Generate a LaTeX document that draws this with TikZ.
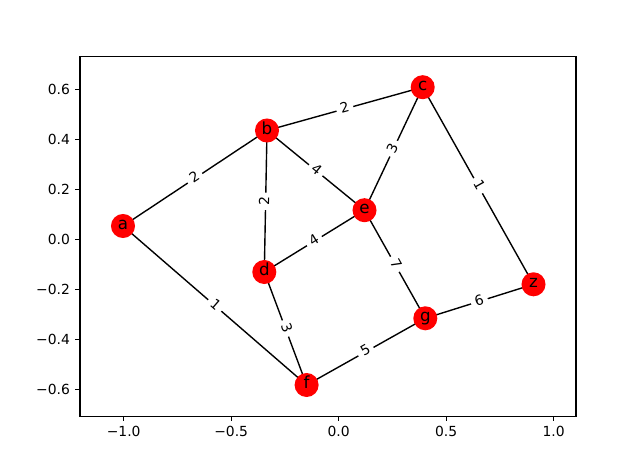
\documentclass[tikz,border=0pt]{standalone}
\usepackage{fontspec}
\setmainfont{DejaVu Sans}
\usetikzlibrary{backgrounds}
\begin{document}
\begin{tikzpicture}[x=0.72pt,y=-0.72pt,
  vertex/.style={circle,fill=red,draw=none,minimum size=17.3pt,inner sep=0pt,
    font=\fontsize{12}{14}\selectfont,text height=0.76em,text depth=0.24em},
  edgeline/.style={line width=1pt,black},
  wlabel/.style={sloped,fill=white,rounded corners=2pt,inner xsep=3pt,inner ysep=1.5pt,
    font=\fontsize{10}{12}\selectfont,text height=0.76em,text depth=0.24em},
  spine/.style={line width=0.8pt,black},
  tickmark/.style={line width=0.8pt,black},
  ticklab/.style={font=\fontsize{10}{12}\selectfont,inner sep=0pt}]
\useasboundingbox (0,0) rectangle (640,468);
% axes frame
\draw[spine] (80,56.2) rectangle (576,416.5);
% x ticks
\foreach \px/\lab [count=\i] in {123.7/−1.0,231.2/−0.5,338.7/0.0,446.2/0.5,553.7/1.0}{
  \draw[tickmark] (\px,416.5) -- (\px,421.4);
  \node[ticklab,anchor=north] (xt\i) at (\px,426.3) {\lab};
}
% y ticks
\foreach \py/\lab [count=\i] in {89.2/0.6,139.2/0.4,189.3/0.2,239.3/0.0,289.3/−0.2,339.4/−0.4,389.4/−0.6}{
  \draw[tickmark] (80,\py) -- (75.1,\py);
  \node[ticklab,anchor=east] (yt\i) at (70.2,\py) {\lab};
}
% nodes
\node[vertex] (a) at (123,226) {a};
\node[vertex] (b) at (267,130.5) {b};
\node[vertex] (c) at (422.7,87.2) {c};
\node[vertex] (d) at (264.3,272) {d};
\node[vertex] (e) at (364.5,210.2) {e};
\node[vertex] (f) at (306.6,385) {f};
\node[vertex] (g) at (425.3,318.3) {g};
\node[vertex] (z) at (533.5,284.3) {z};
% edges
\begin{pgfonlayer}{background}
\draw[edgeline] (a.center) -- node[wlabel]{2} (b.center);
\draw[edgeline] (a.center) -- node[wlabel]{1} (f.center);
\draw[edgeline] (b.center) -- node[wlabel]{2} (c.center);
\draw[edgeline] (b.center) -- node[wlabel]{2} (d.center);
\draw[edgeline] (b.center) -- node[wlabel]{4} (e.center);
\draw[edgeline] (c.center) -- node[wlabel]{3} (e.center);
\draw[edgeline] (c.center) -- node[wlabel]{1} (z.center);
\draw[edgeline] (d.center) -- node[wlabel]{4} (e.center);
\draw[edgeline] (d.center) -- node[wlabel]{3} (f.center);
\draw[edgeline] (e.center) -- node[wlabel]{7} (g.center);
\draw[edgeline] (f.center) -- node[wlabel]{5} (g.center);
\draw[edgeline] (g.center) -- node[wlabel]{6} (z.center);
\end{pgfonlayer}
\end{tikzpicture}
\end{document}
